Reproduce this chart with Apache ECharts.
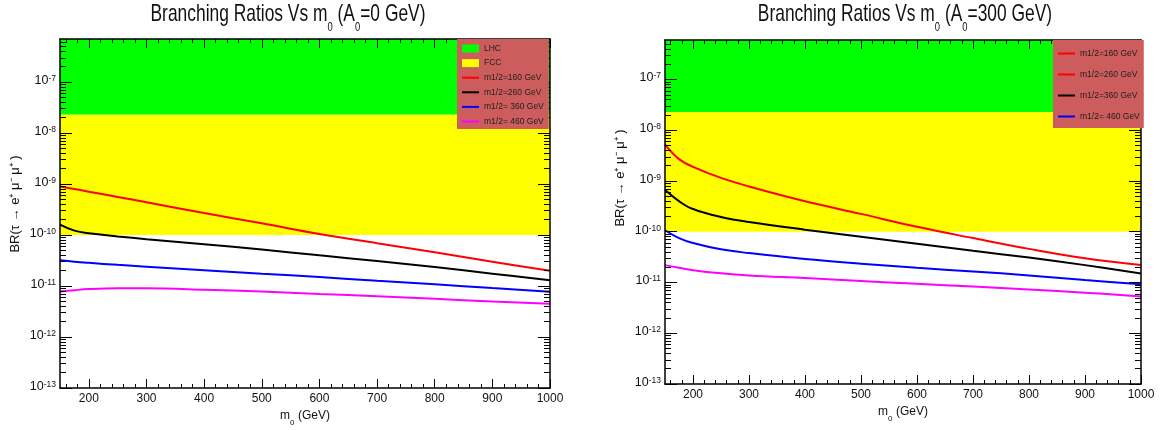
<!DOCTYPE html>
<html>
<head>
<meta charset="utf-8">
<script src="https://cdn.jsdelivr.net/npm/echarts@6/dist/echarts.min.js"></script>
<style>
  html, body { margin: 0; padding: 0; background: #fff; }
  #main { width: 1168px; height: 430px; }
</style>
</head>
<body>
<div id="main"></div>
<script>
// m0 grid (GeV) shared by every curve
const m0 = [150, 175, 200, 250, 300, 400, 500, 600, 700, 800, 900, 1000];

// A0 = 0 GeV
const a0zero160 = [9.0e-10, 8.0e-10, 7.1e-10, 5.6e-10, 4.4e-10, 2.7e-10, 1.7e-10, 1.05e-10, 6.9e-11, 4.6e-11, 3.0e-11, 2.0e-11];
const a0zero260 = [1.6e-10, 1.22e-10, 1.08e-10, 9.4e-11, 8.3e-11, 6.6e-11, 5.2e-11, 4.0e-11, 3.1e-11, 2.35e-11, 1.75e-11, 1.3e-11];
const a0zero360 = [3.2e-11, 3.0e-11, 2.85e-11, 2.6e-11, 2.4e-11, 2.05e-11, 1.75e-11, 1.5e-11, 1.27e-11, 1.08e-11, 9.1e-12, 7.7e-12];
const a0zero460 = [7.8e-12, 8.3e-12, 8.7e-12, 9.0e-12, 9.0e-12, 8.5e-12, 7.8e-12, 7.0e-12, 6.3e-12, 5.6e-12, 5.0e-12, 4.5e-12];

// A0 = 300 GeV
const a0300_160 = [5.2e-9, 2.7e-9, 1.9e-9, 1.15e-9, 7.8e-10, 4.0e-10, 2.25e-10, 1.25e-10, 7.5e-11, 4.6e-11, 3.0e-11, 2.2e-11];
const a0300_260 = [6.7e-10, 4.0e-10, 2.8e-10, 1.95e-10, 1.55e-10, 1.1e-10, 8.0e-11, 5.8e-11, 4.2e-11, 3.1e-11, 2.2e-11, 1.5e-11];
const a0300_360 = [1.07e-10, 7.5e-11, 6.0e-11, 4.5e-11, 3.8e-11, 2.9e-11, 2.35e-11, 1.95e-11, 1.65e-11, 1.38e-11, 1.12e-11, 9.2e-12];
const a0300_460 = [2.2e-11, 1.95e-11, 1.75e-11, 1.52e-11, 1.38e-11, 1.22e-11, 1.07e-11, 9.4e-12, 8.3e-12, 7.3e-12, 6.3e-12, 5.3e-12];

// experimental reach bands [low, high]
const lhcBand = [2.3e-8, 7e-7];
const fccBand = [1e-10, 2.3e-8];

// ticks / labels
const xMajor = [200, 300, 400, 500, 600, 700, 800, 900, 1000];
const xMinor = [160, 180, 220, 240, 260, 280, 320, 340, 360, 380, 420, 440, 460, 480, 520, 540, 560, 580,
  620, 640, 660, 680, 720, 740, 760, 780, 820, 840, 860, 880, 920, 940, 960, 980];
const yDecades = [1e-13, 1e-12, 1e-11, 1e-10, 1e-9, 1e-8, 1e-7];

const FONT = "'Liberation Sans', Arial, Helvetica, sans-serif";
const X_MIN = 150, X_MAX = 1000, Y_MIN = 1e-13;

function minorLogTicks(max) {
    const out = [];
    for (let e = -13; e <= -7; e++) {
        for (let k = 2; k <= 9; k++) {
            const v = k * Math.pow(10, e);
            if (v < max) out.push(v);
        }
    }
    return out;
}

const supLabel = function (v) {
    const e = Math.round(Math.log10(v));
    return '{b|10}{e|' + e + '}';
};

function xAxesFor(gi) {
    const base = {
        type: 'value', gridIndex: gi, min: X_MIN, max: X_MAX, z: 10,
        splitLine: { show: false },
        axisLine: { show: false, onZero: false }
    };
    return [
        Object.assign({}, base, {
            position: 'bottom',
            axisLine: { show: true, onZero: false, lineStyle: { color: '#000', width: 1.5 } },
            axisTick: { inside: true, length: 9, customValues: xMajor, lineStyle: { color: '#000', width: 1 } },
            axisLabel: {
                customValues: xMajor, margin: 5, showMaxLabel: true,
                fontSize: 12, color: '#111', fontFamily: FONT,
                formatter: function (v) { return String(v); }
            },
            name: '{n|m}{s|0}{n| (GeV)}',
            nameLocation: 'middle', nameGap: 19,
            nameTextStyle: {
                fontFamily: FONT, color: '#111',
                rich: {
                    n: { fontSize: 12, lineHeight: 14, verticalAlign: 'top', fontFamily: FONT, color: '#111' },
                    s: { fontSize: 8, lineHeight: 9, padding: [9, 0, 0, 0], verticalAlign: 'top', fontFamily: FONT, color: '#111' }
                }
            }
        }),
        Object.assign({}, base, {
            position: 'bottom',
            axisTick: { inside: true, length: 4, customValues: xMinor, lineStyle: { color: '#000' } },
            axisLabel: { show: false }
        }),
        Object.assign({}, base, {
            position: 'top',
            axisLine: { show: true, onZero: false, lineStyle: { color: '#000', width: 1.5 } },
            axisTick: { inside: true, length: 9, customValues: xMajor, lineStyle: { color: '#000' } },
            axisLabel: { show: false }
        }),
        Object.assign({}, base, {
            position: 'top',
            axisTick: { inside: true, length: 4, customValues: xMinor, lineStyle: { color: '#000' } },
            axisLabel: { show: false }
        })
    ];
}

function yAxesFor(gi, max, namePad) {
    const base = {
        type: 'log', logBase: 10, gridIndex: gi, min: Y_MIN, max: max, z: 10,
        splitLine: { show: false },
        axisLine: { show: false, onZero: false }
    };
    const minor = minorLogTicks(max);
    return [
        Object.assign({}, base, {
            position: 'left',
            axisLine: { show: true, onZero: false, lineStyle: { color: '#000', width: 1.5 } },
            axisTick: { inside: true, length: 12, customValues: yDecades, lineStyle: { color: '#000' } },
            axisLabel: {
                customValues: yDecades, margin: 4, formatter: supLabel,
                rich: {
                    b: { fontSize: 12.5, lineHeight: 16, verticalAlign: 'top', color: '#111', fontFamily: FONT },
                    e: { fontSize: 8.5, lineHeight: 10, verticalAlign: 'top', color: '#111', fontFamily: FONT }
                }
            },
            name: 'BR(τ → e⁺ μ⁻ μ⁺ )',
            nameLocation: 'middle', nameGap: 38,
            nameTextStyle: { fontSize: 13, color: '#111', fontFamily: FONT, padding: [0, 0, 0, namePad] }
        }),
        Object.assign({}, base, {
            position: 'left',
            axisTick: { inside: true, length: 6, customValues: minor, lineStyle: { color: '#000' } },
            axisLabel: { show: false }
        }),
        Object.assign({}, base, {
            position: 'right',
            axisLine: { show: true, onZero: false, lineStyle: { color: '#000', width: 1.5 } },
            axisTick: { inside: true, length: 12, customValues: yDecades, lineStyle: { color: '#000' } },
            axisLabel: { show: false }
        }),
        Object.assign({}, base, {
            position: 'right',
            axisTick: { inside: true, length: 6, customValues: minor, lineStyle: { color: '#000' } },
            axisLabel: { show: false }
        })
    ];
}

function pairs(ys) {
    return m0.map(function (x, i) { return [x, ys[i]]; });
}

function curve(name, color, ys, axisIdx) {
    return {
        name: name, type: 'line', xAxisIndex: axisIdx, yAxisIndex: axisIdx,
        data: pairs(ys), symbol: 'none', smooth: 0.4, z: 5,
        lineStyle: { color: color, width: 2 }, itemStyle: { color: color }
    };
}

function band(name, color, range, axisIdx) {
    return {
        name: name, type: 'line', xAxisIndex: axisIdx, yAxisIndex: axisIdx,
        data: [], symbol: 'none', z: 1,
        itemStyle: { color: color }, lineStyle: { color: color },
        markArea: {
            silent: true, itemStyle: { color: color, opacity: 1 },
            data: [[{ yAxis: range[0] }, { yAxis: range[1] }]]
        }
    };
}

// legend entry for a curve: line only, no marker
function lineEntry(name, color) {
    const e = {
        name: name,
        itemStyle: { color: 'rgba(0,0,0,0)', borderColor: 'rgba(0,0,0,0)', borderWidth: 0, opacity: 0 }
    };
    if (color) e.lineStyle = { color: color, width: 2 };
    return e;
}

// titles: ROOT prints them in a tall, narrow Helvetica, so squeeze horizontally
const titleRich = {
    t: { fontSize: 24, lineHeight: 26, verticalAlign: 'top', fontFamily: FONT, fill: '#111' },
    s: { fontSize: 13, lineHeight: 14, padding: [19, 0, 0, 0], verticalAlign: 'top', fontFamily: FONT, fill: '#111' }
};

function titleGraphic(cx, a0) {
    return {
        type: 'text', x: cx, y: 2, scaleX: 0.725, silent: true,
        style: {
            text: '{t|Branching Ratios Vs m}{s|0}{t| (A}{s|0}{t|=' + a0 + ' GeV)}',
            x: 0, y: 0, align: 'center', verticalAlign: 'top',
            rich: titleRich, fill: '#111'
        }
    };
}

const legendText = { fontSize: 8.5, color: '#222', fontFamily: FONT };

const chart = echarts.init(document.getElementById('main'), null, { renderer: 'canvas' });

const option = {
    animation: false,
    backgroundColor: '#fff',
    graphic: [
        titleGraphic(288, 0),
        titleGraphic(905, 300)
    ],
    grid: [
        { left: 60, top: 39, width: 490, height: 349, outerBoundsMode: 'none' },
        { left: 665, top: 40, width: 476, height: 344, outerBoundsMode: 'none' }
    ],
    xAxis: xAxesFor(0).concat(xAxesFor(1)),
    yAxis: yAxesFor(0, 7e-7, 19).concat(yAxesFor(1, 6e-7, 68)),
    legend: [
        {
            orient: 'vertical', left: 457, top: 39, selectedMode: false, z: 20,
            backgroundColor: '#cd5c5c', padding: [5, 5, 3, 4],
            itemGap: 5.6, itemWidth: 17, itemHeight: 8, textStyle: legendText,
            data: [
                { name: 'LHC', icon: 'rect' },
                { name: 'FCC', icon: 'rect' },
                lineEntry('m1/2=160 GeV'), lineEntry('m1/2=260 GeV'),
                lineEntry('m1/2= 360 GeV'), lineEntry('m1/2= 460 GeV')
            ]
        },
        {
            orient: 'vertical', left: 1053, top: 40, selectedMode: false, z: 20,
            backgroundColor: '#cd5c5c', padding: [9, 4, 7, 4],
            itemGap: 12, itemWidth: 17, itemHeight: 8, textStyle: legendText,
            // the right-hand legend keeps the colours as printed in the original figure
            data: [
                lineEntry('m1/2=160 GeV', '#ff0000'),
                lineEntry('m1/2=260 GeV', '#ff0000'),
                lineEntry('m1/2=360 GeV', '#000000'),
                lineEntry('m1/2= 460 GeV', '#0000ff')
            ]
        }
    ],
    series: [
        band('LHC', '#00ff00', lhcBand, 0),
        band('FCC', '#ffff00', fccBand, 0),
        curve('m1/2=160 GeV', '#ff0000', a0zero160, 0),
        curve('m1/2=260 GeV', '#000000', a0zero260, 0),
        curve('m1/2= 360 GeV', '#0000ff', a0zero360, 0),
        curve('m1/2= 460 GeV', '#ff00ff', a0zero460, 0),

        band('LHC ', '#00ff00', lhcBand, 4),
        band('FCC ', '#ffff00', fccBand, 4),
        curve('m1/2=160 GeV', '#ff0000', a0300_160, 4),
        curve('m1/2=260 GeV', '#000000', a0300_260, 4),
        curve('m1/2=360 GeV', '#0000ff', a0300_360, 4),
        curve('m1/2= 460 GeV', '#ff00ff', a0300_460, 4)
    ]
};

chart.setOption(option);
</script>
</body>
</html>
